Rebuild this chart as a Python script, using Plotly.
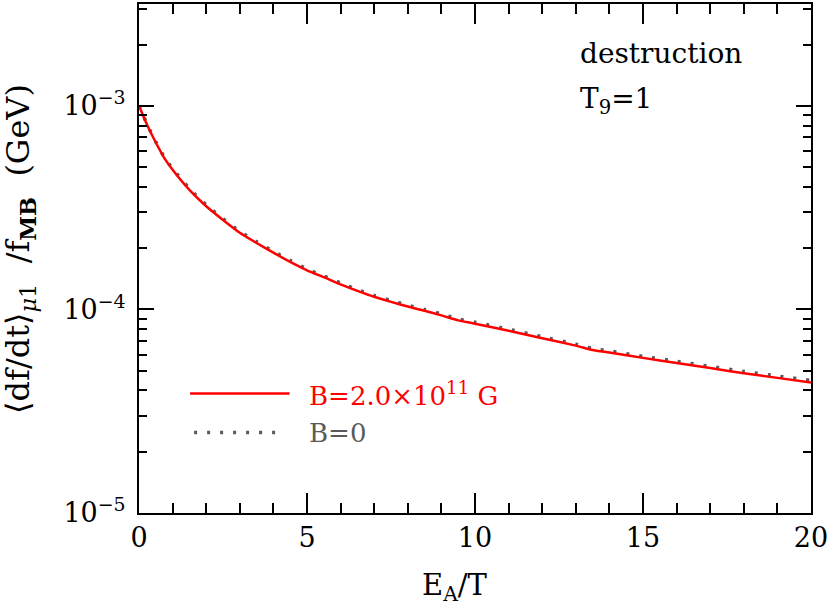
import plotly.graph_objects as go

# ---- data ----
E_over_T = [0, 0.25, 0.5, 0.75, 1, 1.5, 2, 2.5, 3, 3.5, 4, 4.5, 5, 5.5, 6, 6.5, 7, 7.5,
            8, 8.5, 9, 9.5, 10, 11, 12, 13, 13.5, 14, 15, 16, 17, 18, 19, 20]
rate_B2e11 = [1.00e-3, 8.0e-4, 6.6e-4, 5.55e-4, 4.85e-4, 3.86e-4, 3.21e-4, 2.75e-4, 2.38e-4,
              2.12e-4, 1.90e-4, 1.71e-4, 1.556e-4, 1.44e-4, 1.327e-4, 1.233e-4, 1.153e-4,
              1.089e-4, 1.033e-4, 9.84e-5, 9.35e-5, 8.83e-5, 8.51e-5, 7.86e-5, 7.22e-5,
              6.64e-5, 6.32e-5, 6.14e-5, 5.78e-5, 5.46e-5, 5.15e-5, 4.86e-5, 4.61e-5, 4.38e-5]
rate_B0 = [1.00e-3, 8.05e-4, 6.66e-4, 5.6e-4, 4.92e-4, 3.92e-4, 3.26e-4, 2.79e-4, 2.42e-4,
           2.15e-4, 1.93e-4, 1.74e-4, 1.58e-4, 1.46e-4, 1.35e-4, 1.25e-4, 1.17e-4,
           1.105e-4, 1.05e-4, 9.99e-5, 9.5e-5, 8.97e-5, 8.65e-5, 7.99e-5, 7.34e-5,
           6.75e-5, 6.43e-5, 6.25e-5, 5.88e-5, 5.56e-5, 5.25e-5, 4.96e-5, 4.71e-5, 4.48e-5]

x_major = [0, 5, 10, 15, 20]
x_minor = [1, 2, 3, 4, 6, 7, 8, 9, 11, 12, 13, 14, 16, 17, 18, 19]
y_major = [1e-5, 1e-4, 1e-3]
y_major_text = ["10<sup>\u22125</sup>", "10<sup>\u22124</sup>", "10<sup>\u22123</sup>"]
y_minor = [m * 10.0 ** p for p in (-5, -4, -3) for m in range(2, 10) if m * 10.0 ** p < 3.1e-3]

label_B = "B=2.0\u00d710<sup>11</sup> G"
label_B0 = "B=0"
x_title = "E<sub>A</sub>/T"
y_title = ("\u27e8df/dt\u27e9<sub><i>\u03bc</i>1</sub>\u00a0\u00a0/f<sub><b>MB</b></sub>"
           "\u00a0\u00a0(GeV)")

FONT = "DejaVu Serif"
RED = "#ff0000"
GRAY = "#5a5a5a"

fig = go.Figure()
fig.add_trace(go.Scatter(x=E_over_T, y=rate_B0, mode="lines",
                         line=dict(color=GRAY, width=3.5, dash="3px,10px",
                                   shape="spline", smoothing=0.6),
                         showlegend=False, hoverinfo="skip"))
fig.add_trace(go.Scatter(x=E_over_T, y=rate_B2e11, mode="lines",
                         line=dict(color=RED, width=2.5, shape="spline", smoothing=0.6),
                         showlegend=False, hoverinfo="skip"))

axis_common = dict(showgrid=False, zeroline=False, showline=True, linecolor="black",
                   linewidth=2, ticks="inside", tickcolor="black", tickwidth=2,
                   mirror="allticks",
                   tickfont=dict(family=FONT, size=27, color="black"))

fig.update_xaxes(range=[0, 20], tickmode="array", tickvals=x_major,
                 ticktext=[str(v) for v in x_major], ticklen=20,
                 minor=dict(tickvals=x_minor, ticklen=10, tickwidth=1.5,
                            tickcolor="black", ticks="inside"),
                 **axis_common)
fig.update_yaxes(type="log", range=[-5, -2.5], tickmode="array", tickvals=y_major,
                 ticktext=y_major_text, ticklen=15, ticklabelstandoff=6,
                 minor=dict(tickvals=y_minor, ticklen=8, tickwidth=1.5,
                            tickcolor="black", ticks="inside"),
                 **axis_common)

anns = [
    dict(text="destruction", x=0.653, y=0.902, xref="paper", yref="paper",
         xanchor="left", yanchor="middle", showarrow=False,
         font=dict(family=FONT, size=28, color="black")),
    dict(text="T<sub>9</sub>=1", x=0.653, y=0.81, xref="paper", yref="paper",
         xanchor="left", yanchor="middle", showarrow=False,
         font=dict(family=FONT, size=28, color="black")),
    dict(text=x_title, x=0.470, y=-0.145, xref="paper", yref="paper",
         xanchor="center", yanchor="middle", showarrow=False,
         font=dict(family=FONT, size=29, color="black")),
    dict(text=y_title, x=-0.177, y=0.519, xref="paper", yref="paper", textangle=-90,
         xanchor="center", yanchor="middle", showarrow=False,
         font=dict(family=FONT, size=32, color="black")),
    dict(text=label_B, x=0.25, y=0.233, xref="paper", yref="paper",
         xanchor="left", yanchor="middle", showarrow=False,
         font=dict(family=FONT, size=26, color=RED)),
    dict(text=label_B0, x=0.25, y=0.158, xref="paper", yref="paper",
         xanchor="left", yanchor="middle", showarrow=False,
         font=dict(family=FONT, size=26, color=GRAY)),
]

shapes = [
    dict(type="line", xref="paper", yref="paper", x0=0.076, x1=0.224, y0=0.235, y1=0.235,
         line=dict(color=RED, width=2.5)),
    dict(type="line", xref="paper", yref="paper", x0=0.082, x1=0.214, y0=0.158, y1=0.158,
         line=dict(color=GRAY, width=3.5, dash="3px,10px")),
]

fig.update_layout(width=830, height=610,
                  margin=dict(l=139, r=19, t=1.5, b=97),
                  paper_bgcolor="white", plot_bgcolor="white",
                  annotations=anns, shapes=shapes, showlegend=False)

fig.write_html("out.html", config={"displayModeBar": False},
               post_script="document.body.style.margin='0px';document.body.style.padding='0px';")
